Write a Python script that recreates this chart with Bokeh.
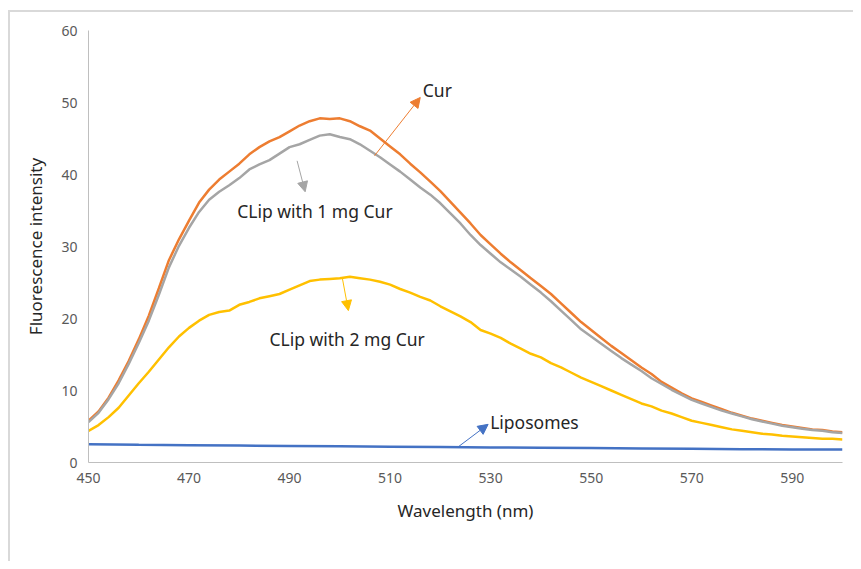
from bokeh.plotting import figure
from bokeh.models import ColumnDataSource, Label, Arrow, NormalHead, FixedTicker
from bokeh.embed import file_html
from bokeh.resources import INLINE

wavelength = list(range(450, 601, 2))

cur = [5.8, 7.1, 9.0, 11.4, 14.1, 17.1, 20.4, 24.2, 28.1, 31.0, 33.6, 36.1, 37.9, 39.3, 40.4, 41.5,
       42.8, 43.8, 44.6, 45.2, 46.0, 46.8, 47.4, 47.8, 47.7, 47.8, 47.4, 46.7, 46.1, 45.0, 43.9, 42.8,
       41.5, 40.3, 39.0, 37.7, 36.2, 34.7, 33.2, 31.6, 30.3, 29.0, 27.8, 26.7, 25.6, 24.5, 23.4, 22.1,
       20.8, 19.5, 18.4, 17.3, 16.2, 15.2, 14.2, 13.2, 12.3, 11.2, 10.4, 9.6, 8.9, 8.4, 7.9, 7.4,
       6.9, 6.5, 6.1, 5.8, 5.5, 5.2, 5.0, 4.8, 4.6, 4.5, 4.3, 4.2]

clip1 = [5.6, 6.9, 8.8, 11.0, 13.7, 16.6, 19.7, 23.3, 27.1, 30.1, 32.6, 34.8, 36.5, 37.6, 38.5, 39.5,
         40.7, 41.4, 42.0, 42.9, 43.8, 44.2, 44.8, 45.4, 45.6, 45.2, 44.9, 44.2, 43.3, 42.4, 41.4, 40.4,
         39.3, 38.2, 37.2, 36.0, 34.6, 33.2, 31.6, 30.2, 29.0, 27.8, 26.8, 25.8, 24.7, 23.6, 22.4, 21.1,
         19.8, 18.5, 17.5, 16.5, 15.5, 14.5, 13.6, 12.7, 11.7, 10.9, 10.1, 9.4, 8.7, 8.2, 7.7, 7.2,
         6.8, 6.4, 6.0, 5.7, 5.4, 5.1, 4.9, 4.7, 4.5, 4.4, 4.2, 4.1]

clip2 = [4.4, 5.2, 6.3, 7.6, 9.3, 11.0, 12.6, 14.3, 16.0, 17.5, 18.7, 19.7, 20.5, 20.9, 21.1, 21.9,
         22.3, 22.8, 23.1, 23.4, 24.0, 24.6, 25.2, 25.4, 25.5, 25.6, 25.8, 25.6, 25.4, 25.1, 24.7, 24.1,
         23.6, 23.0, 22.5, 21.7, 21.0, 20.3, 19.5, 18.4, 17.9, 17.3, 16.5, 15.8, 15.1, 14.6, 13.8, 13.2,
         12.5, 11.8, 11.2, 10.6, 10.0, 9.4, 8.8, 8.2, 7.8, 7.2, 6.8, 6.3, 5.8, 5.5, 5.2, 4.9,
         4.6, 4.4, 4.2, 4.0, 3.9, 3.7, 3.6, 3.5, 3.4, 3.3, 3.3, 3.2]

lipo_wavelength = [450, 460, 470, 480, 490, 500, 510, 520, 530, 540, 550, 560, 570, 580, 590, 600]
liposomes = [2.55, 2.45, 2.4, 2.35, 2.3, 2.25, 2.2, 2.15, 2.1, 2.05, 2.0, 1.95, 1.9, 1.85, 1.8, 1.8]

x_ticks = [450, 470, 490, 510, 530, 550, 570, 590]
y_ticks = [0, 10, 20, 30, 40, 50, 60]

FONT = "Noto Sans"
TXT = "#262626"
TICK = "#595959"

p = figure(width=853, height=561, output_backend="svg", toolbar_location=None,
           x_range=(450, 600), y_range=(0, 60),
           min_border_left=88, min_border_right=11, min_border_top=30, min_border_bottom=99)
p.outline_line_color = None
p.xgrid.visible = False
p.ygrid.visible = False
p.background_fill_color = "white"
p.border_fill_alpha = 0
# outer chart-area frame: only its top and left edges fall inside the picture
p.styles = {
    "background-color": "white",
    "background-image": "linear-gradient(#d9d9d9, #d9d9d9), linear-gradient(#d9d9d9, #d9d9d9)",
    "background-size": "2px 100%, 100% 2px",
    "background-position": "8px 10px, 8px 10px",
    "background-repeat": "no-repeat",
}

for ax in (p.xaxis[0], p.yaxis[0]):
    ax.axis_line_color = "#bfbfbf"
    ax.axis_line_width = 1
    ax.major_tick_line_color = None
    ax.minor_tick_line_color = None
    ax.major_tick_out = 0
    ax.major_tick_in = 0
    ax.minor_tick_out = 0
    ax.minor_tick_in = 0
    ax.major_label_text_font = FONT
    ax.major_label_text_font_size = "14px"
    ax.major_label_text_color = TICK
    ax.axis_label_text_font = FONT
    ax.axis_label_text_font_size = "17px"
    ax.axis_label_text_font_style = "normal"
    ax.axis_label_text_color = TXT

p.xaxis.ticker = FixedTicker(ticks=x_ticks)
p.yaxis.ticker = FixedTicker(ticks=y_ticks)
p.xaxis.axis_label = "Wavelength (nm)"
p.yaxis.axis_label = "Fluorescence intensity"
p.xaxis.major_label_standoff = 10
p.yaxis.major_label_standoff = 11
p.xaxis.axis_label_standoff = 13
p.yaxis.axis_label_standoff = 11

src = ColumnDataSource(dict(x=wavelength, cur=cur, clip1=clip1, clip2=clip2))
lsrc = ColumnDataSource(dict(x=lipo_wavelength, y=liposomes))

p.line("x", "y", source=lsrc, line_color="#4472C4", line_width=2.5)
p.line("x", "clip2", source=src, line_color="#FFC000", line_width=2.5)
p.line("x", "cur", source=src, line_color="#ED7D31", line_width=2.5)
p.line("x", "clip1", source=src, line_color="#A5A5A5", line_width=2.5)

def arrow(x0, y0, x1, y1, color):
    p.add_layout(Arrow(x_start=x0, y_start=y0, x_end=x1, y_end=y1, line_color=color, line_width=1,
                       end=NormalHead(size=10, fill_color=color, line_color=color)))

def label(x, y, t):
    p.add_layout(Label(x=x, y=y, text=t, text_font=FONT, text_font_size="17.5px", text_color=TXT,
                       text_baseline="middle", text_align="left"))

arrow(506.9, 42.6, 516.0, 50.7, "#ED7D31")
label(516.5, 51.7, "Cur")
arrow(491.5, 41.9, 493.1, 37.6, "#A5A5A5")
label(479.6, 35.0, "CLip with 1 mg Cur")
arrow(500.5, 25.6, 501.7, 21.1, "#FFC000")
label(486.0, 17.2, "CLip with 2 mg Cur")
arrow(523.6, 2.2, 529.5, 5.3, "#4472C4")
label(529.9, 5.6, "Liposomes")

open("out.html", "w").write(file_html(p, INLINE))
